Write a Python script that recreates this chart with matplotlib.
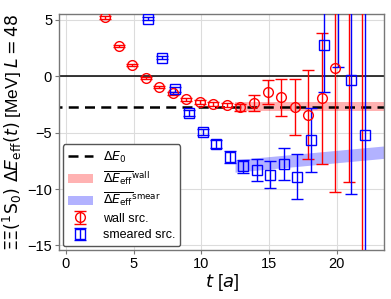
import numpy as np
import matplotlib as mpl
mpl.use('Agg')
import matplotlib.pyplot as plt

mpl.rcParams['font.family'] = ['Liberation Sans', 'DejaVu Sans']
mpl.rcParams['mathtext.fontset'] = 'dejavusans'

# data
t_wall = np.arange(3, 23)
wall_val = [5.2, 2.68, 0.97, -0.15, -0.95, -1.53, -2.06, -2.3, -2.48, -2.52,
            -2.75, -2.38, -1.39, -1.89, -2.71, -3.4, -1.95, 0.74, 7.0, -20.0]
wall_err = [0.15, 0.12, 0.1, 0.1, 0.1, 0.12, 0.12, 0.15, 0.15, 0.18,
            0.3, 0.7, 1.06, 1.67, 2.5, 3.95, 5.8, 11.0, 16.4, 30.0]

t_smear = np.arange(6, 23)
smear_val = [5.1, 1.65, -1.18, -3.28, -4.95, -6.05, -7.18, -8.0, -8.33, -8.73,
             -7.81, -8.9, -5.66, 2.78, 8.0, -0.3, -5.22]
smear_err = [0.15, 0.15, 0.2, 0.25, 0.3, 0.35, 0.55, 0.6, 1.0, 1.2,
             1.4, 2.0, 2.86, 4.15, 7.2, 10.1, 25.0]

dE0 = -2.75
band_t = [12.5, 24.0]
wall_band = [-2.7, -2.7]
wall_band_err = 0.4
smear_band = [-7.96, -6.68]
smear_band_err = 0.55

fig = plt.figure(figsize=(3.91, 2.99), dpi=100)
ax = fig.add_axes((0.151, 0.164, 0.831, 0.789))

ax.axhline(0, color='k', lw=1.1, zorder=1)
l0, = ax.plot([-1, 25], [dE0, dE0], color='k', ls='--', lw=1.8, dashes=(4, 2.5), zorder=2)

bw = ax.fill_between(band_t, np.array(wall_band) - wall_band_err, np.array(wall_band) + wall_band_err,
                     color='red', alpha=0.3, lw=0, zorder=1)
bs = ax.fill_between(band_t, np.array(smear_band) - smear_band_err, np.array(smear_band) + smear_band_err,
                     color='blue', alpha=0.3, lw=0, zorder=1)

ew = ax.errorbar(t_wall - 0.1, wall_val, yerr=wall_err, fmt='o', color='red', mfc='none',
                 ms=7, mew=1.0, elinewidth=1.0, capsize=4, capthick=1.0, zorder=3)
es = ax.errorbar(t_smear + 0.1, smear_val, yerr=smear_err, fmt='s', color='blue', mfc='none',
                 ms=7, mew=1.0, elinewidth=1.0, capsize=4, capthick=1.0, zorder=3)

ax.set_xlim(-0.5, 23.5)
ax.set_ylim(-15.4, 5.5)
ax.set_xticks([0, 5, 10, 15, 20])
ax.set_yticks([-15, -10, -5, 0, 5])
ax.grid(True, color='#dcdcdc', lw=0.8, zorder=0)
ax.set_axisbelow(True)
for s in ax.spines.values():
    s.set_color('#777777')
    s.set_linewidth(1.0)
ax.tick_params(labelsize=10.5, length=3, color='#777777', pad=2)

ax.set_xlabel(r'$t$ [$a$]', fontsize=13, labelpad=1)
ax.set_ylabel(r'$\Xi\Xi(^1\mathrm{S}_0)\ \Delta E_{\rm eff}(t)$ [MeV] $L=48$', fontsize=12.5, labelpad=2)

ax.legend([l0, bw, bs, ew, es],
          [r'$\Delta E_0$', r'$\overline{\Delta E_{\rm eff}}^{\rm wall}$',
           r'$\overline{\Delta E_{\rm eff}}^{\rm smear}$', 'wall src.', 'smeared src.'],
          loc='lower left', fontsize=9, framealpha=1, edgecolor='#555555',
          borderaxespad=0.3, handlelength=2.0, labelspacing=0.35)

fig.savefig('out.png', dpi=100)
